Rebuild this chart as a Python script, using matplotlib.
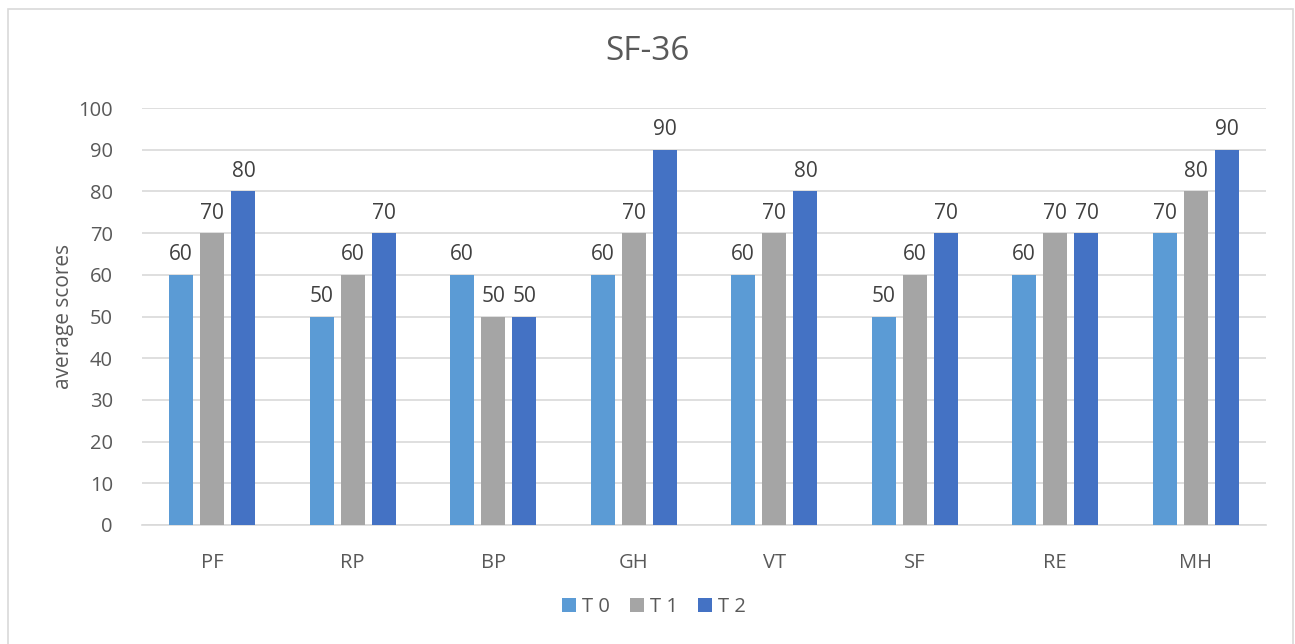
import numpy as np
import matplotlib.pyplot as plt
from matplotlib.patches import Rectangle

# SF-36 domain scores at three time points
domains = ['PF', 'RP', 'BP', 'GH', 'VT', 'SF', 'RE', 'MH']
t0 = [60, 50, 60, 60, 60, 50, 60, 70]
t1 = [70, 60, 50, 70, 70, 60, 70, 80]
t2 = [80, 70, 50, 90, 80, 70, 70, 90]
series_names = ['T 0', 'T 1', 'T 2']
colors = ['#5B9BD5', '#A5A5A5', '#4472C4']
yticks = [0, 10, 20, 30, 40, 50, 60, 70, 80, 90, 100]

plt.rcParams['font.family'] = ['Open Sans', 'DejaVu Sans']
text_color = '#595959'

fig = plt.figure(figsize=(12.95, 6.44), dpi=100)
ax = fig.add_axes([142 / 1295, 1 - 525 / 644, 1124 / 1295, 417 / 644])

# light frame round the chart (bottom edge runs off the canvas)
fig.patches.append(Rectangle((8 / 1295, -0.02), 1285 / 1295, 1.02 - 9 / 644,
                             transform=fig.transFigure, fill=False,
                             edgecolor='#D9D9D9', linewidth=1.2))

x = np.arange(len(domains))
width = 0.17
step = 0.222
for i, (vals, name, col) in enumerate(zip([t0, t1, t2], series_names, colors)):
    pos = x + (i - 1) * step
    bars = ax.bar(pos, vals, width, color=col, label=name, zorder=3)
    for b, v in zip(bars, vals):
        ax.text(b.get_x() + b.get_width() / 2, v + 2.3, str(v),
                ha='center', va='bottom', fontsize=15, color='#404040')

ax.set_xlim(-0.5, len(domains) - 0.5)
ax.set_ylim(0, 100)
ax.set_yticks(yticks)
ax.set_xticks(x)
ax.set_xticklabels(domains)
ax.tick_params(axis='both', length=0, labelsize=14.5, labelcolor=text_color)
ax.tick_params(axis='x', pad=20)
ax.tick_params(axis='y', pad=21)
ax.grid(axis='y', color='#D9D9D9', linewidth=1.2, zorder=0)
for s in ['top', 'right', 'left']:
    ax.spines[s].set_visible(False)
ax.spines['bottom'].set_color('#D9D9D9')
ax.spines['bottom'].set_linewidth(1.2)

ax.set_ylabel('average scores', fontsize=15, color=text_color, labelpad=3)
fig.text(0.5, 1 - 52 / 644, 'SF-36', ha='center', va='center',
         fontsize=24, color=text_color)

fig.legend(loc='center', bbox_to_anchor=(654 / 1295, 1 - 607 / 644), ncol=3,
           frameon=False, fontsize=14.5, handlelength=0.7, handleheight=0.7,
           handletextpad=0.3, columnspacing=1.0, labelcolor=text_color)

fig.savefig('out.png', dpi=100)
